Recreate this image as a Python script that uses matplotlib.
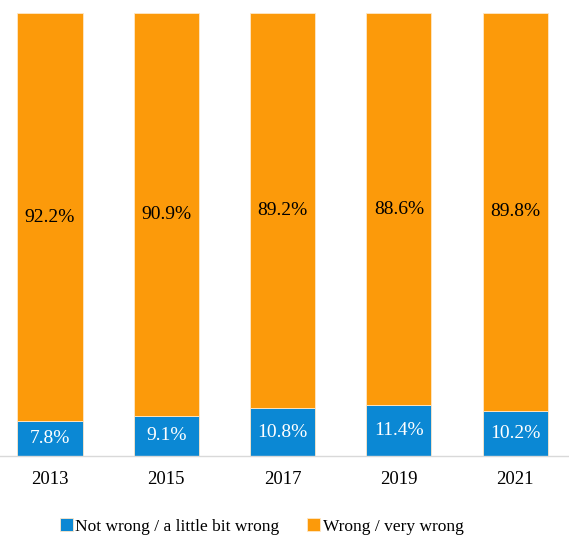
import matplotlib.pyplot as plt
import numpy as np

years = ["2013", "2015", "2017", "2019", "2021"]
not_wrong = [7.8, 9.1, 10.8, 11.4, 10.2]
wrong = [92.2, 90.9, 89.2, 88.6, 89.8]

blue = "#0B88D4"
orange = "#FC9A0A"

plt.rcParams['font.family'] = ['Liberation Serif', 'DejaVu Serif']

fig = plt.figure(figsize=(5.69, 5.35), dpi=100)
ax = fig.add_axes([0.0, 0.1477, 1.0, 0.828])

x = np.arange(len(years))
w = 0.56
b1 = ax.bar(x, not_wrong, w, color=blue, edgecolor="#FFE8C8", linewidth=0.6,
            label="Not wrong / a little bit wrong")
b2 = ax.bar(x, wrong, w, bottom=not_wrong, color=orange, edgecolor="#FFE8C8",
            linewidth=0.6, label="Wrong / very wrong")

for i in range(len(years)):
    ax.text(x[i], not_wrong[i] / 2, f"{not_wrong[i]:.1f}%", ha="center",
            va="center", color="white", fontsize=14)
    ax.text(x[i], not_wrong[i] + wrong[i] / 2, f"{wrong[i]:.1f}%",
            ha="center", va="center", color="black", fontsize=14)

ax.set_xlim(-0.43, 4.463)
ax.set_ylim(0, 100)
ax.set_yticks([])
ax.set_xticks(x)
ax.set_xticklabels(years, fontsize=13.5)
ax.tick_params(axis="x", length=0, pad=11)
for s in ["top", "right", "left"]:
    ax.spines[s].set_visible(False)
ax.spines["bottom"].set_color("#D9D9D9")
ax.spines["bottom"].set_linewidth(1.0)

fig.legend(handles=[b1, b2], loc="center", bbox_to_anchor=(0.46, 0.016),
           ncol=2, frameon=False, fontsize=12.5, handlelength=0.75,
           handleheight=0.75, handletextpad=0.15, columnspacing=1.6)

fig.savefig("out.png", dpi=100)
